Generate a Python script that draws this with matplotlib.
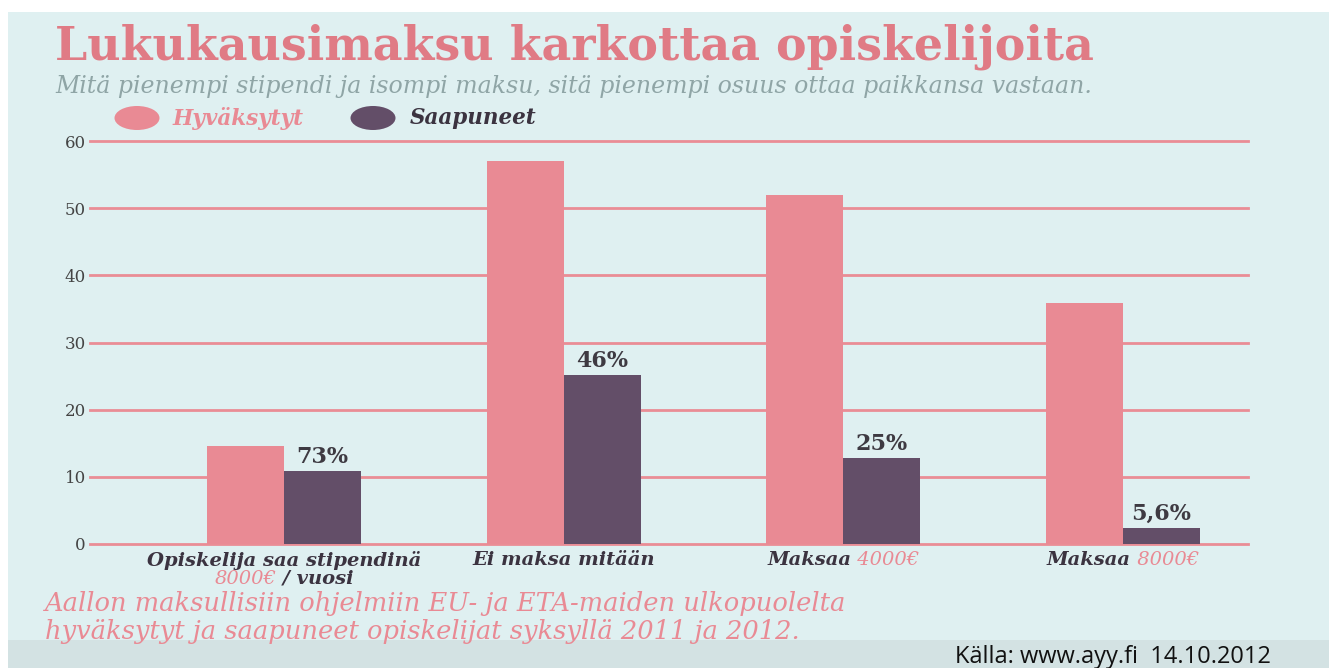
import matplotlib.pyplot as plt
from matplotlib.patches import Rectangle, Ellipse
from matplotlib.offsetbox import TextArea, HPacker, VPacker, AnnotationBbox
import numpy as np

# data
groups = ['Opiskelija saa stipendinä', 'Ei maksa mitään', 'Maksaa', 'Maksaa']
group_extra = ['8000€', '', '4000€', '8000€']
hyvaksytyt = [14.6, 57.0, 51.9, 35.9]
saapuneet = [10.9, 25.1, 12.8, 2.4]
osuus = ['73%', '46%', '25%', '5,6%']
yticks = [0, 10, 20, 30, 40, 50, 60]

pink = '#e98a94'
title_pink = '#e07b85'
purple = '#634e68'
grid_pink = '#ea8d95'
bg = '#dff0f1'
dark = '#3b3340'

plt.rcParams['font.family'] = ['DejaVu Serif', 'DejaVu Sans']

fig = plt.figure(figsize=(13.29, 6.68), dpi=100, facecolor='white')
W, H = 1329, 668

def fx(px):
    return px / W

def fy(py):
    return 1 - py / H

# background panel
fig.patches.append(Rectangle((fx(8), fy(640)), fx(1321), 628 / H, transform=fig.transFigure,
                             facecolor=bg, edgecolor='none', zorder=-2))
fig.patches.append(Rectangle((fx(8), 0), fx(1321), 28 / H, transform=fig.transFigure,
                             facecolor='#d3e2e3', edgecolor='none', zorder=-2))

ax = fig.add_axes([fx(90), fy(544), fx(1248 - 90), (544 - 141) / H])
ax.set_facecolor('none')
ax.set_zorder(2)

x = np.arange(len(groups))
w = 0.275
ax.bar(x - w / 2, hyvaksytyt, w, color=pink, zorder=3)
ax.bar(x + w / 2, saapuneet, w, color=purple, zorder=3)
for xi, v, t in zip(x, saapuneet, osuus):
    ax.text(xi + w / 2, v + 0.45, t, ha='center', va='bottom', fontsize=16,
            fontweight='bold', color='#3e3a42', zorder=4)

ax.set_ylim(0, 60)
ax.set_xlim(-0.694, 3.447)
ax.set_yticks(yticks)
ax.set_yticklabels([str(t) for t in yticks], fontsize=12, color='#444444')
ax.tick_params(axis='y', length=0, pad=3)
ax.set_xticks([])
for s in ax.spines.values():
    s.set_visible(False)
for t in yticks:
    ax.axhline(t, color=grid_pink, lw=2, zorder=1, clip_on=False)

# category labels with coloured parts
lab = dict(fontsize=14, fontweight='bold', style='italic', color=dark)
acc = dict(fontsize=14, style='italic', color=pink)
for xi, g, e in zip(x, groups, group_extra):
    main = TextArea(g, textprops=lab)
    if xi == 0:
        line2 = HPacker(children=[TextArea(e, textprops=acc), TextArea(' / vuosi', textprops=lab)],
                        align='baseline', pad=0, sep=0)
        box = VPacker(children=[main, line2], align='center', pad=0, sep=0)
    elif e:
        box = HPacker(children=[main, TextArea(' ' + e, textprops=acc)],
                      align='baseline', pad=0, sep=0)
    else:
        box = main
    ab = AnnotationBbox(box, (xi, 0), xycoords=('data', 'axes fraction'),
                        xybox=(0, -5), boxcoords='offset points', box_alignment=(0.5, 1),
                        frameon=False)
    ax.add_artist(ab)

# title, subtitle
fig.text(fx(55), fy(60), 'Lukukausimaksu karkottaa opiskelijoita', fontsize=33,
         fontweight='bold', color=title_pink, va='baseline', ha='left')
fig.text(fx(55), fy(93), 'Mitä pienempi stipendi ja isompi maksu, sitä pienempi osuus ottaa paikkansa vastaan.',
         fontsize=17, style='italic', color='#8fa5a6', va='baseline', ha='left')

# legend
fig.patches.append(Ellipse((fx(137), fy(118)), fx(45), 24 / H, transform=fig.transFigure,
                           facecolor=pink, edgecolor='none', zorder=1))
fig.text(fx(172), fy(118), 'Hyväksytyt', fontsize=15.5, fontweight='bold', style='italic',
         color=pink, va='center')
fig.patches.append(Ellipse((fx(373), fy(118)), fx(45), 24 / H, transform=fig.transFigure,
                           facecolor=purple, edgecolor='none', zorder=1))
fig.text(fx(410), fy(118), 'Saapuneet', fontsize=15.5, fontweight='bold', style='italic',
         color=dark, va='center')

# footer
fig.text(fx(45), fy(611), 'Aallon maksullisiin ohjelmiin EU- ja ETA-maiden ulkopuolelta',
         fontsize=18.5, style='italic', color=pink, va='baseline', ha='left')
fig.text(fx(45), fy(639), 'hyväksytyt ja saapuneet opiskelijat syksyllä 2011 ja 2012.',
         fontsize=18.5, style='italic', color=pink, va='baseline', ha='left')
fig.text(fx(955), fy(657), 'Källa: www.ayy.fi  14.10.2012', fontsize=17, color='#111111',
         family='Open Sans', va='center', ha='left')

fig.savefig('out.png', dpi=100, facecolor='white')
